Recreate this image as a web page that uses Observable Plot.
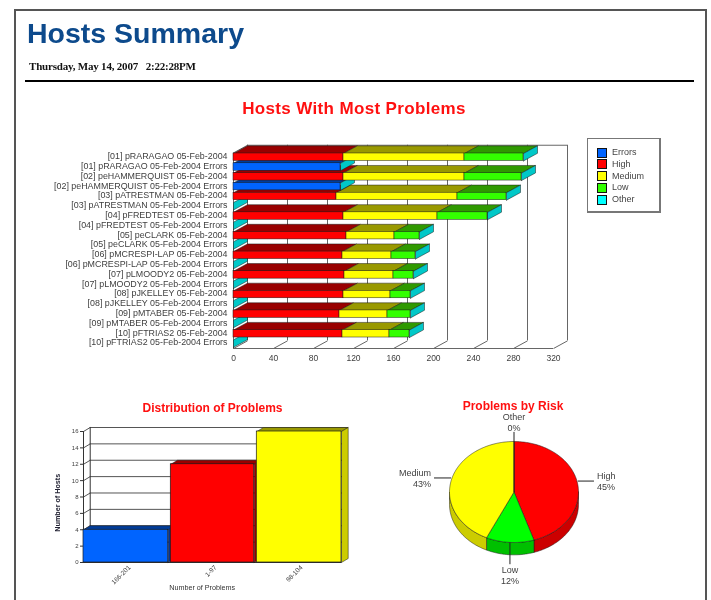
<!DOCTYPE html>
<html>
<head>
<meta charset="utf-8">
<script src="https://cdn.jsdelivr.net/npm/d3@7"></script>
<script src="https://cdn.jsdelivr.net/npm/@observablehq/plot@0.6"></script>
<style>
  html, body { margin: 0; padding: 0; background: #fff; }
  #page { position: relative; width: 711px; height: 600px; overflow: hidden; background: #fff;
          font-family: "Liberation Sans", Arial, sans-serif; filter: blur(0.4px); }
  #page > svg, #page > div, #page > figure { position: absolute; margin: 0; }
  .frame { left: 14px; top: 9px; width: 689px; height: 720px; border: 2px solid #555; }
  .rule { left: 25px; top: 80px; width: 669px; height: 2px; background: #000; }
  .h1 { left: 27px; top: 17px; font: bold 28.5px "Liberation Sans", Arial, sans-serif; color: #0d4a8c; white-space: nowrap; }
  .date { left: 29px; top: 60px; font: bold 11px "Liberation Serif", "Times New Roman", serif; color: #111; white-space: pre; letter-spacing: -0.2px; }
  .title { color: #ff1010; font-weight: bold; white-space: nowrap; transform: translateX(-50%); }
  .legend { left: 587px; top: 138px; width: 71px; height: 72px; border: 1px solid #777; border-right-width: 2px; border-bottom-width: 2px; background: #fff; }
  .legend div { position: absolute; left: 9px; height: 12px; font-size: 9px; line-height: 12px; color: #444; padding-left: 15px; white-space: nowrap; }
  .legend i { position: absolute; left: 0; top: 1.5px; width: 8px; height: 8px; border: 1px solid #111; }
</style>
</head>
<body>
<div id="page"></div>
<script>
// ---------- data ----------
const hosts = ["pRARAGAO", "peHAMMERQUIST", "pATRESTMAN", "pFREDTEST", "peCLARK",
               "pMCRESPI-LAP", "pLMOODY2", "pJKELLEY", "pMTABER", "pFTRIAS2"];
const runDate = "05-Feb-2004";
const high   = [110, 110, 103, 110, 113, 109, 111, 110, 106, 109];
const medium = [121, 121, 121,  94,  48,  49,  49,  47,  48,  47];
const low    = [ 59,  57,  49,  50,  25,  24,  20,  20,  23,  20];
const errors = [107, 107,   0,   0,   0,   0,   0,   0,   0,   0];
const problemTicks = [0, 40, 80, 120, 160, 200, 240, 280, 320];

const distCategories = ["166-201", "1-97", "98-104"];
const distHosts = [4, 12, 16];
const distTicks = [0, 2, 4, 6, 8, 10, 12, 14, 16];

const riskNames = ["High", "Low", "Medium", "Other"];
const riskPercent = [45, 12, 43, 0];

const legendNames = ["Errors", "High", "Medium", "Low", "Other"];

// ---------- styles ----------
const front = {Errors: "#0064ff", High: "#ff0000", Medium: "#ffff00", Low: "#33ff00", Other: "#00ffff"};
const topFace = {Errors: "#003c99", High: "#990000", Medium: "#999900", Low: "#2f9900", Other: "#00cccc"};
const sideFace = {Errors: "#00369a", High: "#990000", Medium: "#cccc00", Low: "#00c000", Other: "#00c8c8"};
const pieFront = {High: "#ff0000", Low: "#00ff00", Medium: "#ffff00", Other: "#00ffff"};
const pieSide = {High: "#cc0000", Low: "#00c000", Medium: "#cccc00", Other: "#00cccc"};
const edge = "#1a1a1a";
const wall = "#666";
const inkDark = "#404040";

const page = document.getElementById("page");
function add(cls, text, css) {
  const d = document.createElement("div");
  d.className = cls;
  if (text) d.textContent = text;
  if (css) d.style.cssText = css;
  page.appendChild(d);
  return d;
}
function place(svg, left, top) {
  svg.style.left = left + "px";
  svg.style.top = top + "px";
  svg.style.background = "transparent";
  svg.style.maxWidth = "none";
  page.appendChild(svg);
}
function poly(z, pts, fill) {
  return [...pts, pts[0]].map(([x, y]) => ({x, y, z, fill}));
}
const lineOpts = {x: "x", y: "y", z: "z", fill: "fill", stroke: edge, strokeWidth: 0.5, curve: "linear"};

add("frame");
add("h1", "Hosts Summary");
add("date", "Thursday, May 14, 2007   2:22:28PM");
add("rule");
add("title", "Hosts With Most Problems", "left:354px;top:99px;font-size:17px;letter-spacing:0.35px;");
add("title", "Distribution of Problems", "left:212.5px;top:401px;font-size:12px;");
add("title", "Problems by Risk", "left:513px;top:399px;font-size:12px;");

// ---------- stacked 3D horizontal bars ----------
{
  const depthX = 14, depthY = 0.78, half = 0.38;
  const rows = hosts.flatMap((h, k) => {
    const id = "[" + String(k + 1).padStart(2, "0") + "] " + h + " " + runDate;
    return [
      {label: id, parts: [["High", high[k]], ["Medium", medium[k]], ["Low", low[k]]]},
      {label: id + " Errors", parts: errors[k] ? [["Errors", errors[k]]] : []}
    ];
  });
  const floor = 19.5, ceiling = -1.22, backFloor = floor - depthY;
  const marks = [
    Plot.ruleX(problemTicks, {x: (d) => d + depthX, y1: backFloor, y2: ceiling, stroke: wall, strokeWidth: 1}),
    Plot.ruleY([ceiling], {x1: depthX, x2: 320 + depthX, stroke: wall, strokeWidth: 1}),
    Plot.ruleY([floor], {x1: 0, x2: 320, stroke: wall, strokeWidth: 1}),
    Plot.ruleX([0], {y1: floor, y2: ceiling + depthY, stroke: wall, strokeWidth: 1}),
    Plot.link(problemTicks, {x1: (d) => d, y1: floor, x2: (d) => d + depthX, y2: backFloor, stroke: wall, strokeWidth: 1}),
    Plot.link([0], {x1: 0, y1: ceiling + depthY, x2: depthX, y2: ceiling, stroke: wall, strokeWidth: 1})
  ];
  // Painted from the bottom row upward: upper rows cover the tops of lower ones.
  d3.range(rows.length - 1, -1, -1).forEach((r) => {
    let at = 0;
    const faces = [], fronts = [];
    rows[r].parts.forEach(([name, v], s) => {
      const a = at, b = at + v;
      at = b;
      faces.push(...poly(`t${r}-${s}`, [[a, r - half], [b, r - half], [b + depthX, r - half - depthY], [a + depthX, r - half - depthY]], topFace[name]));
      fronts.push({x1: a, x2: b, y1: r - half, y2: r + half, fill: front[name]});
    });
    faces.push(...poly(`s${r}`, [[at, r + half], [at, r - half], [at + depthX, r - half - depthY], [at + depthX, r + half - depthY]], sideFace.Other));
    marks.push(Plot.line(faces, lineOpts));
    if (fronts.length) marks.push(Plot.rect(fronts, {x1: "x1", x2: "x2", y1: "y1", y2: "y2", fill: "fill", stroke: edge, strokeWidth: 0.5, inset: 0}));
  });
  marks.push(
    Plot.axisY(d3.range(rows.length), {anchor: "left", tickSize: 0, tickPadding: 6, label: null, fontSize: 8.9, fill: inkDark, dy: -1,
      tickFormat: (i) => rows[i].label}),
    Plot.axisX(problemTicks, {anchor: "bottom", tickSize: 0, tickPadding: 6, label: null, fontSize: 8.5, fill: inkDark, tickFormat: (d) => String(d)})
  );
  place(Plot.plot({
    width: 590, height: 240, marginLeft: 233, marginRight: 37, marginTop: 12, marginBottom: 22,
    x: {domain: [0, 320], axis: null},
    y: {domain: [floor, floor - 21], axis: null},
    color: {type: "identity"},
    style: {fontFamily: "'Liberation Sans', Arial, sans-serif", background: "transparent", overflow: "visible"},
    marks
  }), 0, 130);
}

// ---------- legend ----------
{
  const box = add("legend");
  legendNames.forEach((name, i) => {
    const row = document.createElement("div");
    row.style.top = (7 + i * 11.8) + "px";
    row.textContent = name;
    const sw = document.createElement("i");
    sw.style.background = front[name];
    row.appendChild(sw);
    box.appendChild(row);
  });
}

// ---------- 3D columns ----------
{
  const depthX = 0.078, depthY = 0.49, top = 16 + depthY;
  const barColor = ["Errors", "High", "Medium"];
  const marks = [
    Plot.ruleY(distTicks.slice(1), {y: (d) => d + depthY, x1: depthX, x2: 3 + depthX, stroke: "#555", strokeWidth: 1}),
    Plot.link(distTicks, {x1: 0, y1: (d) => d, x2: depthX, y2: (d) => d + depthY, stroke: "#555", strokeWidth: 1}),
    Plot.ruleX([depthX], {y1: depthY, y2: top, stroke: "#333", strokeWidth: 1}),
    Plot.ruleX([0], {y1: 0, y2: 16, stroke: "#333", strokeWidth: 1}),
    Plot.ruleY([0], {x1: 0, x2: 3, stroke: "#333", strokeWidth: 1})
  ];
  distHosts.forEach((v, i) => {
    const c = barColor[i], a = i + (i ? 0.015 : 0), b = i + 1 - (i < 2 ? 0.015 : 0);
    marks.push(
      Plot.line([
        ...poly(`t${i}`, [[a, v], [b, v], [b + depthX, v + depthY], [a + depthX, v + depthY]], topFace[c]),
        ...poly(`s${i}`, [[b, 0], [b, v], [b + depthX, v + depthY], [b + depthX, depthY]], sideFace[c])
      ], lineOpts),
      Plot.rect([{x1: a, x2: b, y1: 0, y2: v, fill: front[c]}], {x1: "x1", x2: "x2", y1: "y1", y2: "y2", fill: "fill", stroke: edge, strokeWidth: 0.7, inset: 0})
    );
  });
  marks.push(
    Plot.axisY(distTicks, {anchor: "left", tickSize: 3, tickPadding: 2, label: null, fontSize: 6, fill: inkDark, stroke: "#333"}),
    Plot.axisX([0.5, 1.5, 2.5], {anchor: "bottom", tickSize: 0, tickPadding: 4, tickRotate: -45, label: null, fontSize: 6.5, fill: inkDark, dx: 3,
      tickFormat: (d) => distCategories[Math.floor(d)]}),
    Plot.text(["Number of Problems"], {x: 1.38, frameAnchor: "bottom", lineAnchor: "middle", dy: 25, fontSize: 7.2, fill: "#333", text: (d) => d}),
    Plot.text(["Number of Hosts"], {y: 7.3, frameAnchor: "left", textAnchor: "middle", lineAnchor: "middle", dx: -26, rotate: -90, fontSize: 7.2, fontWeight: "bold", fill: "#223", text: (d) => d})
  );
  place(Plot.plot({
    width: 320, height: 200, marginLeft: 43, marginRight: 19, marginTop: 27, marginBottom: 38,
    x: {domain: [0, 3], axis: null},
    y: {domain: [0, top], axis: null},
    color: {type: "identity"},
    style: {fontFamily: "'Liberation Sans', Arial, sans-serif", background: "transparent", overflow: "visible"},
    marks
  }), 40, 400);
}

// ---------- 3D pie ----------
{
  const pieDepth = 0.245, lift = 0.06, sideEnd = 1.24;
  const rad = (deg) => (deg * Math.PI) / 180;
  const onRim = (deg) => [Math.sin(rad(deg)), Math.cos(rad(deg))];
  const arcPts = (a, b) => {
    const n = Math.max(1, Math.ceil(b - a));
    return d3.range(n + 1).map((i) => onRim(a + ((b - a) * i) / n));
  };
  const total = d3.sum(riskPercent);
  let turn = 0;
  const slices = riskNames.map((name, i) => {
    const a = turn, b = turn + (riskPercent[i] / total) * 360;
    turn = b;
    return {name, pct: riskPercent[i], a, b, mid: (a + b) / 2};
  });
  const sides = [], tops = [];
  slices.forEach((s) => {
    const a = Math.max(s.a, 90), b = Math.min(s.b, 270);
    if (b > a) {
      const rim = arcPts(a, b);
      sides.push(...poly("side" + s.name, [...rim, ...rim.slice().reverse().map(([x, y]) => [x, y - pieDepth])], pieSide[s.name]));
    }
    if (s.b > s.a) tops.push(...poly("top" + s.name, [[0, 0], ...arcPts(s.a, s.b)], pieFront[s.name]));
  });
  const leaders = slices.map((s) => {
    const [sx, cy] = onRim(s.mid % 360);
    const horizontal = Math.abs(sx) > Math.abs(cy);
    if (horizontal) {
      const y = cy + lift;
      return {...s, x1: sx, y1: y, x2: Math.sign(sx) * sideEnd, y2: y, dir: sx > 0 ? "right" : "left"};
    }
    return cy > 0
      ? {...s, x1: 0, y1: 0, x2: 0, y2: 1.19, dir: "up"}
      : {...s, x1: sx, y1: cy, x2: sx, y2: -1.43, dir: "down"};
  });
  const lab = (d) => d.name + "\n" + d.pct + "%";
  const textStyle = {x: "x2", y: "y2", text: lab, fontSize: 9, fill: inkDark, lineHeight: 1.25};
  place(Plot.plot({
    width: 240, height: 205, marginLeft: 59, marginRight: 52, marginTop: 46, marginBottom: 58,
    x: {domain: [-1, 1], axis: null},
    y: {domain: [-1, 1], axis: null},
    color: {type: "identity"},
    style: {fontFamily: "'Liberation Sans', Arial, sans-serif", background: "transparent", overflow: "visible"},
    marks: [
      Plot.line(sides, lineOpts),
      Plot.line(tops, lineOpts),
      Plot.link(leaders, {x1: "x1", y1: "y1", x2: "x2", y2: "y2", stroke: "#222", strokeWidth: 1}),
      Plot.text(leaders.filter((d) => d.dir === "right"), {...textStyle, textAnchor: "start", dx: 3}),
      Plot.text(leaders.filter((d) => d.dir === "left"), {...textStyle, textAnchor: "end", dx: -3}),
      Plot.text(leaders.filter((d) => d.dir === "down"), {...textStyle, lineAnchor: "top", dy: 1}),
      Plot.text(leaders.filter((d) => d.dir === "up"), {...textStyle, lineAnchor: "bottom", dy: -1})
    ]
  }), 390, 395);
}
</script>
</body>
</html>
